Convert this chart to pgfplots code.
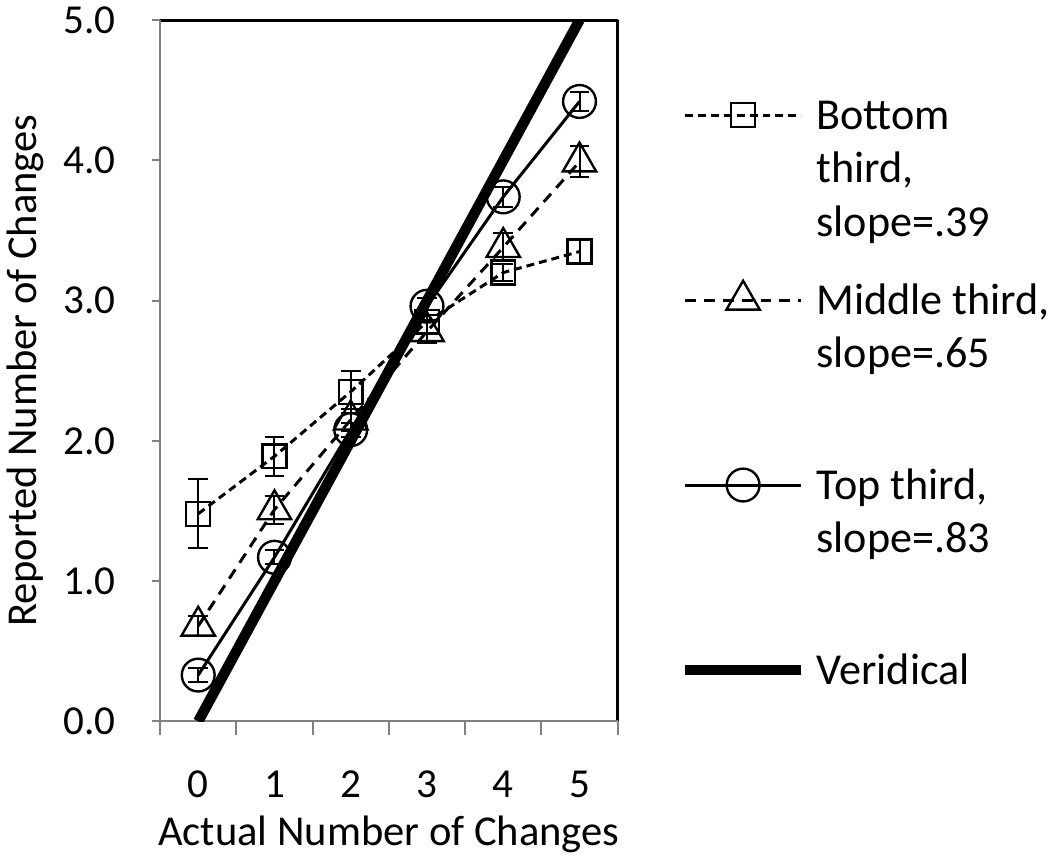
\documentclass[border=0pt]{standalone}
\usepackage{pgfplots}
\pgfplotsset{compat=1.18}
\usepackage{fontspec}
\setmainfont{Carlito}
\newcommand{\tf}{\fontsize{20.7}{26}\selectfont}
\newcommand{\lf}{\fontsize{21.4}{26}\selectfont}
\newcommand{\gf}{\fontsize{22.2}{27}\selectfont}
\newcommand{\lent}[1]{\raisebox{-7.1pt}[0pt][0pt]{\begin{tabular}[t]{@{}l@{}}#1\end{tabular}}}
\begin{document}
\begin{tikzpicture}
% top and right frame lines (black)
\begin{axis}[
  scale only axis, width=230pt, height=352.5pt,
  xmin=-0.5, xmax=5.5, ymin=0, ymax=5,
  axis x line*=top, axis y line*=right,
  axis line style={-, draw=black, line width=1.5pt},
  xtick=\empty, ytick=\empty,
]
\end{axis}
\begin{axis}[
  scale only axis, width=230pt, height=352.5pt,
  xmin=-0.5, xmax=5.5, ymin=0, ymax=5,
  axis lines=left,
  axis line style={-, draw=gray, line width=1pt},
  clip=true,
  tick align=outside,
  xtick={0,...,5},
  xtick style={draw=none},
  minor xtick={-0.5,0.5,...,5.5},
  minor x tick style={draw=gray, line width=1pt},
  minor tick length=7pt,
  ytick={0,...,5},
  ytick style={draw=gray, line width=1pt},
  major tick length=4pt,
  /pgf/number format/assume math mode=true,
  yticklabel style={/pgf/number format/fixed, /pgf/number format/fixed zerofill, /pgf/number format/precision=1, xshift=-15pt},
  xticklabel style={yshift=-17.5pt},
  tick label style={font=\tf, text=black},
  label style={font=\lf, text=black},
  ylabel style={yshift=3pt},
  xlabel style={yshift=-2pt},
  xlabel={Actual Number of Changes},
  ylabel={Reported Number of Changes},
  legend style={at={(1,1)}, anchor=north west, xshift=31pt, yshift=-22.5pt,
    draw=none, fill=none, inner sep=0pt, font=\gf, row sep=43pt, column sep=5pt,
    nodes={inner sep=0pt, text depth=0pt}},
  legend cell align=left,
  legend image code/.code={\path[draw=none, fill=none] (0pt,-25pt) rectangle (58.5pt,25pt);
    \draw[mark repeat=2,mark phase=2,#1] plot coordinates {(0pt,0pt) (29.25pt,0pt) (58.5pt,0pt)};},
]
\addplot[black, line width=1.5pt, dash pattern=on 4pt off 2.5pt,
  mark=square, mark size=6pt, mark options={solid, line width=1.2pt},
  error bars/.cd, y dir=both, y explicit,
  error bar style={solid, line width=1pt, black},
  error mark options={rotate=90, mark size=5pt, line width=1pt, solid, black}]
  table[x=x, y=y, y error=e] {
x y e
0 1.48 0.245
1 1.89 0.14
2 2.35 0.15
3 2.85 0.08
4 3.20 0.06
5 3.35 0.08
};
\addlegendentry{\lent{Bottom\\third,\\slope=.39}}
\addplot[black, line width=1.5pt, dash pattern=on 5.5pt off 4pt,
  mark=triangle, mark size=9.7pt, mark options={solid, line width=1.2pt},
  error bars/.cd, y dir=both, y explicit,
  error bar style={solid, line width=1pt, black},
  error mark options={rotate=90, mark size=5pt, line width=1pt, solid, black}]
  table[x=x, y=y, y error=e] {
x y e
0 0.68 0.07
1 1.51 0.10
2 2.15 0.08
3 2.78 0.08
4 3.38 0.10
5 3.99 0.11
};
\addlegendentry{\lent{Middle third,\\slope=.65}}
\addplot[black, line width=1.5pt,
  mark=o, mark size=8.25pt, mark options={solid, line width=1.2pt},
  error bars/.cd, y dir=both, y explicit,
  error bar style={solid, line width=1pt, black},
  error mark options={rotate=90, mark size=5pt, line width=1pt, solid, black}]
  table[x=x, y=y, y error=e] {
x y e
0 0.33 0.05
1 1.17 0.05
2 2.08 0.05
3 2.96 0.06
4 3.74 0.07
5 4.42 0.07
};
\addlegendentry{\lent{Top third,\\slope=.83}}
\addplot[black, line width=5.25pt] coordinates {(0,0) (5,5)};
\addlegendentry{\lent{Veridical}}
\end{axis}
\end{tikzpicture}
\end{document}
